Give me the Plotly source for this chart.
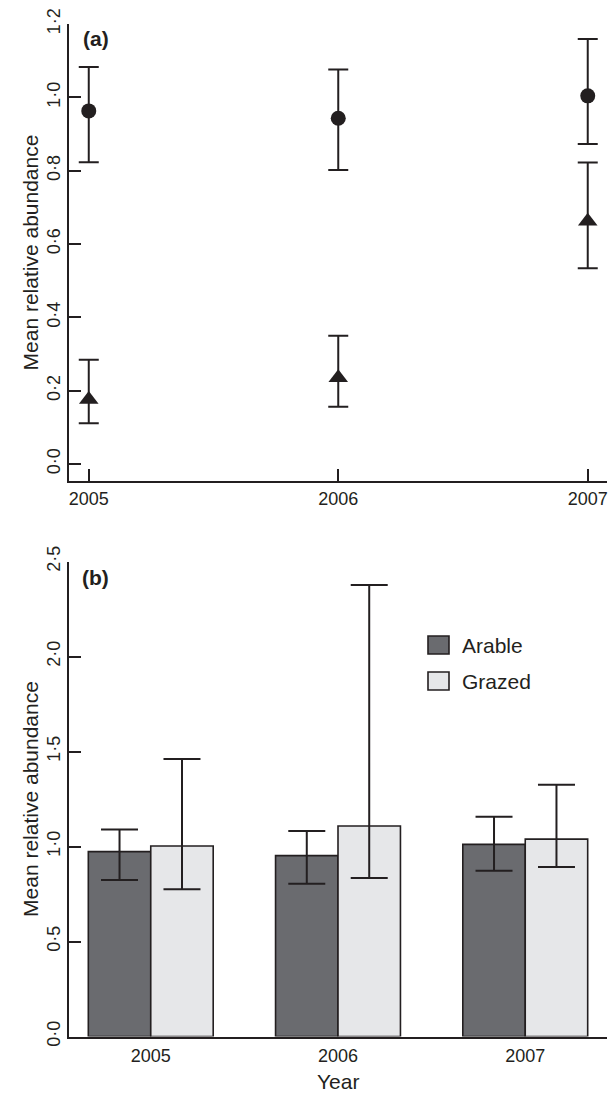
import plotly.graph_objects as go

W, H = 608, 1095

# ---------------- data ----------------
years = [2005, 2006, 2007]
year_labels = ["2005", "2006", "2007"]

# panel (a)
circle_mean = [0.963, 0.943, 1.004]
circle_upper = [1.083, 1.076, 1.159]
circle_lower = [0.823, 0.802, 0.873]

triangle_mean = [0.176, 0.235, 0.662]
triangle_upper = [0.284, 0.350, 0.822]
triangle_lower = [0.111, 0.156, 0.534]

a_tickvals = [0.0, 0.2, 0.4, 0.6, 0.8, 1.0, 1.2]
a_ticktext = ["0·0", "0·2", "0·4", "0·6", "0·8", "1·0", "1·2"]

# panel (b)
series_names = ["Arable", "Grazed"]
arable_mean = [0.973, 0.952, 1.011]
arable_upper = [1.090, 1.082, 1.157]
arable_lower = [0.824, 0.804, 0.873]

grazed_mean = [1.003, 1.108, 1.039]
grazed_upper = [1.460, 2.376, 1.325]
grazed_lower = [0.775, 0.834, 0.892]

b_tickvals = [0.0, 0.5, 1.0, 1.5, 2.0, 2.5]
b_ticktext = ["0·0", "0·5", "1·0", "1·5", "2·0", "2·5"]

colors = {"Arable": "#6a6b6f", "Grazed": "#e6e7e9"}
INK = "#231f20"
FONT = "Liberation Sans, Arial, sans-serif"


def plus(mean, upper):
    return [u - m for m, u in zip(mean, upper)]


def minus(mean, lower):
    return [m - l for m, l in zip(mean, lower)]


fig = go.Figure()

# ---- panel (a) ----
fig.add_trace(go.Scatter(
    x=years, y=circle_mean, mode="markers", name="Circles",
    marker=dict(symbol="circle", size=15, color=INK),
    error_y=dict(type="data", symmetric=False,
                 array=plus(circle_mean, circle_upper),
                 arrayminus=minus(circle_mean, circle_lower),
                 color=INK, thickness=2, width=10),
    xaxis="x", yaxis="y", showlegend=False))

fig.add_trace(go.Scatter(
    x=years, y=triangle_mean, mode="markers", name="Triangles",
    marker=dict(symbol="triangle-up", size=17, color=INK),
    error_y=dict(type="data", symmetric=False,
                 array=plus(triangle_mean, triangle_upper),
                 arrayminus=minus(triangle_mean, triangle_lower),
                 color=INK, thickness=2, width=10),
    xaxis="x", yaxis="y", showlegend=False))

# ---- panel (b) ----
for name, mean, up, lo in [("Arable", arable_mean, arable_upper, arable_lower),
                           ("Grazed", grazed_mean, grazed_upper, grazed_lower)]:
    fig.add_trace(go.Bar(
        x=year_labels, y=mean, name=name,
        marker=dict(color=colors[name], line=dict(color=INK, width=1.6)),
        error_y=dict(type="data", symmetric=False,
                     array=plus(mean, up), arrayminus=minus(mean, lo),
                     color=INK, thickness=2, width=18.5),
        xaxis="x2", yaxis="y2", showlegend=False))


def px_x(p):
    return p / W


def px_y(p):
    return 1 - p / H


xdom = [px_x(69.3), px_x(606.7)]
a_dom = [px_y(481), px_y(24)]
b_dom = [px_y(1036.5), px_y(561.5)]

tickfont = dict(family=FONT, size=18, color=INK)
titlefont = dict(family=FONT, size=21, color=INK)

fig.update_layout(
    width=W, height=H,
    margin=dict(l=0, r=0, t=0, b=0),
    paper_bgcolor="white", plot_bgcolor="white",
    barmode="group", bargap=0.333, bargroupgap=0,
    font=dict(family=FONT, color=INK),
    xaxis=dict(domain=xdom, range=[2004.922, 2007.076],
               tickvals=years, ticktext=year_labels,
               ticks="inside", ticklen=12, tickwidth=2, tickcolor=INK,
               showline=True, linewidth=2, linecolor=INK,
               showgrid=False, zeroline=False, tickfont=tickfont,
               anchor="y", automargin=False),
    yaxis=dict(domain=a_dom, range=[-0.0464, 1.2],
               tickvals=a_tickvals, ticktext=a_ticktext, tickangle=-90,
               ticks="inside", ticklen=12, tickwidth=2, tickcolor=INK,
               showline=True, linewidth=2, linecolor=INK,
               showgrid=False, zeroline=False, tickfont=tickfont,
               title=dict(text="Mean relative abundance", font=titlefont, standoff=0),
               anchor="x", automargin=False),
    xaxis2=dict(domain=xdom, range=[-0.435, 2.435], type="category",
                categoryorder="array", categoryarray=year_labels,
                ticks="", showline=True, linewidth=2, linecolor=INK,
                showgrid=False, zeroline=False, tickfont=tickfont,
                ticklabelstandoff=2,
                anchor="y2", automargin=False),
    yaxis2=dict(domain=b_dom, range=[0, 2.5],
                tickvals=b_tickvals, ticktext=b_ticktext, tickangle=-90,
                ticks="inside", ticklen=12, tickwidth=2, tickcolor=INK,
                showline=True, linewidth=2, linecolor=INK,
                showgrid=False, zeroline=False, tickfont=tickfont,
                title=dict(text="Mean relative abundance", font=titlefont, standoff=0),
                anchor="x2", automargin=False),
)

# x-axis title of panel (b)
fig.add_annotation(text="Year", xref="paper", yref="paper",
                   x=(xdom[0] + xdom[1]) / 2, y=px_y(1094), xanchor="center",
                   yanchor="bottom", showarrow=False, borderpad=0, font=titlefont)

# panel letters
fig.add_annotation(text="<b>(a)</b>", xref="paper", yref="paper",
                   x=px_x(81), y=px_y(39), xanchor="left", yanchor="middle",
                   showarrow=False, font=dict(family=FONT, size=21, color=INK))
fig.add_annotation(text="<b>(b)</b>", xref="paper", yref="paper",
                   x=px_x(80), y=px_y(577), xanchor="left", yanchor="middle",
                   showarrow=False, font=dict(family=FONT, size=21, color=INK))

# legend for panel (b)
legend_rows = [645, 681]
for name, cy in zip(series_names, legend_rows):
    fig.add_shape(type="rect", xref="paper", yref="paper",
                  x0=px_x(428), x1=px_x(449), y0=px_y(cy - 9), y1=px_y(cy + 9),
                  fillcolor=colors[name], line=dict(color=INK, width=1.6))
    fig.add_annotation(text=name, xref="paper", yref="paper",
                       x=px_x(460), y=px_y(cy), xanchor="left", yanchor="middle",
                       showarrow=False, font=titlefont)

fig.write_html(
    "out.html",
    config={"displayModeBar": False},
    post_script="document.body.style.margin='0';document.body.style.overflow='hidden';",
)
